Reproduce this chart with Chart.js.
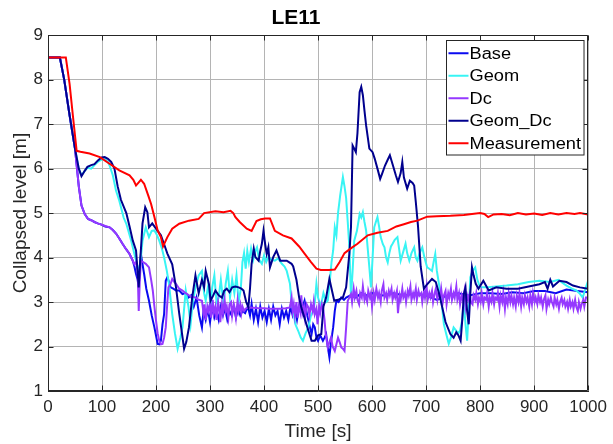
<!DOCTYPE html>
<html><head><meta charset="utf-8">
<script src="https://cdn.jsdelivr.net/npm/chart.js@4.4.1/dist/chart.umd.min.js"></script>
<style>html,body{margin:0;padding:0;background:#fff;}canvas{display:block;}</style>
</head><body>
<canvas id="c" width="613" height="444"></canvas>
<script>
const chartTitle = 'LE11';
const xLabel = 'Time [s]';
const yLabel = 'Collapsed level [m]';
const seriesNames = ['Base', 'Geom', 'Dc', 'Geom_Dc', 'Measurement'];
const seriesColors = ['#0a0af0', '#38f4f4', '#9538ff', '#00008e', '#ff0000'];
const xTickValues = [0, 100, 200, 300, 400, 500, 600, 700, 800, 900, 1000];
const yTickValues = [1, 2, 3, 4, 5, 6, 7, 8, 9];

// [time s, level m]
const baseData = [[0,8.5],[22,8.5],[30,8.0],[40,7.2],[50,6.45],[57,5.6],[62,5.17],[68,4.98],[74,4.87],[80,4.84],[86,4.8],[92,4.77],[99,4.74],[106,4.7],[114,4.68],[120,4.62],[126,4.54],[132,4.43],[138,4.31],[144,4.2],[151,4.08],[157,3.93],[160,3.8],[163,3.63],[166,3.5],[168,3.33],[170,3.8],[172,4.08],[175,3.85],[178,3.63],[182,3.3],[187,3.03],[192,2.7],[197,2.43],[203,2.06],[206,2.05],[209,2.13],[212,2.5],[215,2.73],[218,3.48],[221,3.56],[224,3.45],[227,3.33],[232,3.3],[237,3.26],[243,3.26],[249,3.18],[255,3.2],[260,3.1],[265,3.15],[270,2.9],[275,3.1],[280,2.7],[285,2.43],[288,2.8],[292,2.6],[296,2.85],[300,2.55],[304,2.9],[308,2.65],[312,2.8],[316,2.6],[320,2.9],[324,2.7],[328,2.85],[332,2.6],[336,2.8],[340,2.7],[344,2.9],[348,2.65],[352,2.85],[356,2.7],[360,2.8],[365,2.75],[370,2.9],[374,2.7],[377,2.96],[381,2.6],[385,2.85],[389,2.55],[393,2.9],[397,2.65],[401,2.8],[405,2.55],[409,2.85],[413,2.6],[417,2.9],[421,2.7],[425,2.8],[429,2.5],[433,2.85],[437,2.65],[441,2.8],[445,2.6],[449,2.9],[453,2.7],[457,2.85],[461,2.6],[465,2.9],[469,2.8],[475,3.03],[480,2.7],[485,2.43],[488,2.28],[491,2.5],[494,2.43],[497,2.2],[500,2.13],[504,2.25],[509,2.13],[512,2.2],[515,2.28],[518,2.0],[521,1.76],[524,2.1],[528,2.43],[531,2.8],[534,3.03],[538,3.0],[543,3.1],[548,3.05],[552,3.1],[560,3.15],[570,3.1],[580,3.2],[590,3.15],[600,3.2],[620,3.15],[640,3.2],[660,3.15],[680,3.2],[700,3.15],[720,3.05],[740,3.15],[760,3.2],[780,3.15],[800,3.2],[820,3.2],[840,3.18],[860,3.22],[880,3.2],[900,3.25],[920,3.25],[940,3.2],[960,3.28],[980,3.25],[1000,3.22]];

const geomData = [[0,8.5],[22,8.5],[30,8.0],[40,7.2],[50,6.45],[57,6.0],[62,5.85],[68,5.95],[73,6.02],[80,6.0],[86,6.08],[92,6.15],[99,6.2],[105,6.22],[111,6.15],[114,6.07],[120,5.85],[126,5.5],[132,5.28],[140,4.9],[145,4.76],[154,4.38],[160,4.08],[166,3.8],[169,3.63],[172,4.0],[175,4.38],[181,4.68],[187,4.46],[192,4.6],[197,4.61],[202,4.5],[206,4.38],[211,4.2],[215,4.0],[220,3.7],[224,3.41],[230,2.73],[235,2.3],[240,1.95],[245,2.2],[249,2.43],[255,3.26],[260,2.9],[264,2.5],[268,3.0],[273,3.33],[279,3.6],[285,3.7],[289,3.2],[292,3.03],[297,3.4],[301,2.9],[304,3.33],[308,3.6],[312,3.0],[316,3.1],[320,3.5],[325,2.95],[329,3.41],[333,3.7],[337,3.1],[341,3.5],[345,3.2],[349,3.6],[353,3.0],[357,3.3],[360,3.9],[363,4.1],[366,3.75],[369,4.15],[372,3.9],[376,4.2],[380,3.95],[384,4.15],[387,4.23],[391,3.95],[396,3.86],[400,4.05],[404,3.9],[408,4.01],[414,3.95],[420,3.93],[426,3.98],[433,3.86],[438,3.8],[442,3.7],[448,3.41],[451,3.0],[454,2.8],[458,2.5],[463,2.36],[468,2.2],[472,2.13],[477,2.3],[482,2.43],[487,2.7],[491,2.8],[494,3.0],[497,3.41],[500,3.1],[505,2.9],[510,3.2],[515,3.0],[518,3.03],[522,3.5],[525,3.9],[528,4.16],[531,4.68],[534,4.5],[537,5.0],[541,5.4],[546,5.81],[549,5.6],[552,5.34],[555,4.8],[558,4.23],[561,3.1],[564,3.7],[567,4.38],[572,4.6],[577,4.98],[580,4.9],[583,5.02],[586,4.8],[589,4.61],[592,4.2],[595,3.78],[598,3.33],[601,4.0],[604,4.68],[607,4.8],[610,4.91],[613,4.7],[616,4.46],[620,4.3],[623,4.23],[626,4.0],[629,3.89],[632,4.1],[635,4.25],[638,4.31],[642,4.4],[647,4.46],[650,4.2],[653,3.93],[657,4.1],[662,4.31],[665,4.1],[669,3.93],[673,4.1],[678,4.23],[681,4.0],[684,3.93],[688,4.1],[693,4.23],[697,4.0],[702,3.78],[706,3.75],[711,3.7],[714,3.9],[717,4.08],[720,3.7],[724,3.4],[727,3.18],[730,2.85],[733,2.5],[737,2.3],[742,2.06],[746,2.2],[751,2.43],[756,2.35],[760,2.3],[763,2.36],[767,2.6],[770,3.03],[773,2.5],[776,2.13],[779,2.8],[782,3.56],[786,3.7],[791,3.78],[795,3.5],[800,3.33],[810,3.33],[830,3.35],[849,3.37],[870,3.4],[890,3.45],[910,3.48],[930,3.45],[945,3.5],[960,3.37],[970,3.3],[978,3.26],[984,3.2],[990,3.1],[995,3.3],[1000,3.48]];

const dcData = [[0,8.5],[22,8.5],[30,8.0],[40,7.2],[50,6.45],[57,5.6],[62,5.17],[68,4.98],[74,4.87],[80,4.84],[86,4.8],[92,4.77],[99,4.74],[106,4.71],[114,4.68],[120,4.62],[126,4.54],[132,4.43],[138,4.31],[144,4.2],[151,4.08],[157,3.93],[160,3.85],[163,3.9],[166,3.7],[168,2.8],[170,3.5],[172,3.93],[176,3.9],[181,3.86],[187,3.78],[191,3.5],[194,3.26],[197,2.9],[200,2.58],[203,2.3],[206,2.13],[209,2.05],[212,2.06],[215,2.2],[218,2.43],[221,3.0],[223,3.33],[227,3.41],[230,3.52],[234,3.45],[237,3.41],[243,3.3],[249,3.26],[255,3.2],[261,3.15],[267,3.12],[273,3.1],[279,3.05],[285,3.03],[288,2.75],[290,2.95],[292,2.6],[295,2.9],[297,2.8],[300,2.95],[302,2.65],[305,3.05],[307,2.75],[310,2.9],[312,2.6],[315,3.0],[317,2.85],[319,2.55],[322,2.95],[324,2.75],[327,3.05],[329,2.8],[331,2.9],[334,2.65],[336,2.95],[339,3.0],[341,2.7],[344,2.95],[346,2.85],[348,2.65],[351,3.03],[353,2.8],[356,2.95],[358,2.75],[360,2.9],[363,2.8],[366,2.85],[370,2.88],[380,2.87],[390,2.86],[400,2.86],[410,2.85],[420,2.85],[430,2.85],[440,2.86],[448,2.88],[451,3.1],[453,2.8],[455,2.95],[457,2.7],[460,3.0],[462,2.65],[465,2.95],[467,2.8],[469,3.15],[471,2.75],[474,2.9],[476,2.65],[479,2.95],[482,2.88],[484,2.7],[487,2.95],[490,2.8],[492,3.0],[494,2.73],[497,2.85],[499,2.5],[502,2.9],[504,2.75],[507,2.95],[510,2.8],[512,2.6],[514,2.3],[518,1.98],[521,2.1],[524,2.2],[527,2.0],[531,1.9],[534,2.05],[537,2.2],[540,2.1],[543,1.98],[546,1.95],[549,1.9],[552,2.43],[555,3.03],[558,3.1],[561,3.18],[563,3.0],[566,3.3],[568,3.1],[571,3.25],[573,3.05],[576,2.95],[578,3.2],[581,3.1],[583,3.35],[586,3.05],[588,3.15],[591,3.0],[593,3.25],[596,3.1],[598,3.2],[600,2.9],[603,3.2],[605,3.05],[608,3.3],[611,3.1],[613,3.2],[616,3.0],[618,3.25],[621,3.4],[623,3.1],[626,3.2],[628,3.05],[631,3.25],[633,3.15],[636,3.3],[638,3.05],[641,3.2],[643,3.1],[646,3.25],[648,2.75],[651,3.15],[653,3.05],[656,3.3],[658,3.1],[661,3.2],[663,3.0],[666,3.25],[668,3.15],[671,3.35],[673,3.05],[676,3.2],[678,3.1],[681,3.3],[683,3.05],[686,3.25],[688,3.15],[691,3.2],[693,3.0],[696,3.25],[698,3.1],[701,3.35],[703,3.05],[706,3.2],[708,3.1],[711,3.25],[713,3.0],[716,3.2],[718,3.3],[721,3.05],[723,3.2],[726,3.1],[728,3.3],[731,3.0],[733,3.15],[736,3.25],[738,2.95],[741,3.2],[743,3.1],[746,3.3],[748,3.05],[751,3.2],[753,3.1],[756,3.35],[758,3.05],[761,3.2],[763,2.95],[766,3.15],[768,3.05],[771,3.25],[773,2.9],[776,3.15],[778,3.05],[781,3.2],[783,3.0],[786,2.95],[788,3.15],[791,3.05],[793,3.2],[796,2.95],[798,3.1],[801,3.0],[803,3.2],[806,2.95],[808,3.1],[811,3.05],[813,3.2],[816,2.9],[818,3.1],[821,3.0],[823,3.2],[826,2.95],[828,3.1],[831,3.05],[833,3.2],[836,2.9],[838,3.15],[841,3.0],[843,3.2],[846,2.85],[848,3.1],[851,2.95],[853,3.2],[856,3.0],[858,3.15],[861,2.95],[863,3.1],[866,2.9],[868,3.15],[871,3.0],[873,3.2],[876,2.9],[878,3.1],[881,2.95],[883,3.15],[886,3.0],[888,3.1],[891,2.9],[893,3.15],[896,2.95],[898,3.2],[901,3.0],[903,3.1],[906,2.95],[908,3.15],[911,3.0],[913,3.1],[916,2.9],[918,3.05],[921,3.15],[923,2.85],[926,3.05],[928,2.95],[931,3.1],[933,3.0],[936,2.9],[938,3.1],[941,2.95],[943,3.05],[946,2.85],[948,3.0],[951,3.1],[953,2.95],[956,3.05],[958,2.9],[961,3.0],[963,2.85],[966,3.05],[968,2.9],[971,3.0],[973,2.85],[976,3.05],[978,2.9],[981,2.8],[983,3.0],[986,2.85],[988,2.95],[991,3.05],[993,2.9],[996,3.1],[1000,3.1]];

const geomDcData = [[0,8.5],[22,8.5],[30,8.0],[40,7.2],[50,6.45],[57,6.0],[62,5.83],[68,5.95],[73,6.04],[80,6.08],[86,6.1],[92,6.18],[99,6.25],[105,6.26],[111,6.22],[117,6.15],[123,6.0],[129,5.6],[135,5.3],[145,5.0],[151,4.7],[157,4.38],[163,4.16],[168,3.33],[170,3.78],[175,4.77],[180,5.13],[184,5.02],[187,4.68],[193,4.77],[200,4.65],[209,4.5],[215,4.3],[221,4.09],[230,3.85],[237,3.33],[243,2.74],[248,2.3],[252,1.95],[256,2.1],[261,2.43],[267,3.1],[273,3.6],[279,3.2],[285,3.5],[289,3.33],[292,3.7],[298,3.4],[301,3.03],[306,3.15],[310,3.26],[316,3.15],[322,3.1],[326,3.25],[331,3.3],[336,3.22],[341,3.33],[347,3.35],[353,3.33],[358,3.3],[362,3.26],[367,3.0],[371,2.88],[374,3.3],[377,3.86],[381,4.2],[384,4.01],[390,3.93],[393,4.15],[396,4.31],[399,4.6],[402,4.31],[405,4.08],[408,4.23],[411,3.78],[417,4.01],[423,4.16],[430,3.93],[436,3.93],[442,3.93],[451,3.86],[454,3.8],[460,3.5],[465,3.1],[469,2.88],[476,2.6],[482,2.36],[488,2.13],[494,2.13],[500,2.25],[506,2.28],[510,2.9],[515,3.1],[521,3.52],[530,3.03],[537,3.05],[546,3.1],[552,3.33],[558,4.09],[561,4.68],[564,6.52],[567,6.45],[570,6.37],[573,6.8],[577,7.72],[580,7.84],[583,7.65],[586,7.3],[589,6.97],[595,6.45],[601,6.37],[605,6.22],[610,6.0],[615,5.77],[619,5.9],[624,6.07],[629,6.2],[633,6.3],[638,6.1],[644,5.85],[648,5.7],[653,5.9],[656,6.15],[659,5.8],[665,5.55],[670,5.73],[675,5.68],[678,5.62],[681,5.25],[685,4.72],[690,3.8],[696,3.3],[702,3.4],[711,3.52],[718,3.45],[724,3.2],[730,2.88],[736,2.55],[745,2.28],[751,2.2],[756,2.32],[760,2.25],[764,2.13],[767,2.6],[770,3.18],[773,3.33],[776,2.8],[779,2.5],[782,3.2],[785,3.78],[788,3.6],[792,3.41],[797,3.3],[806,3.48],[816,3.26],[830,3.33],[849,3.3],[870,3.3],[890,3.35],[910,3.4],[920,3.45],[925,3.3],[930,3.5],[935,3.35],[947,3.48],[960,3.45],[972,3.37],[985,3.33],[1000,3.3]];

const measurementData = [[0,8.5],[33,8.5],[40,7.9],[46,7.2],[53,6.4],[60,6.38],[77,6.34],[96,6.26],[114,6.11],[132,5.96],[151,5.85],[158,5.75],[163,5.62],[172,5.75],[178,5.66],[186,5.38],[191,5.2],[197,4.91],[203,4.61],[209,4.46],[213,4.25],[221,4.46],[230,4.65],[243,4.76],[261,4.83],[279,4.87],[289,5.0],[310,5.04],[325,5.02],[338,5.05],[343,5.0],[347,4.91],[355,4.8],[368,4.65],[377,4.6],[386,4.82],[394,4.86],[402,4.88],[411,4.88],[420,4.6],[435,4.5],[451,4.43],[465,4.25],[475,4.09],[487,3.9],[497,3.75],[505,3.72],[520,3.72],[531,3.73],[540,3.9],[549,4.1],[560,4.2],[573,4.31],[592,4.5],[610,4.56],[629,4.6],[645,4.7],[659,4.75],[672,4.8],[684,4.83],[702,4.92],[720,4.93],[745,4.94],[770,4.96],[800,5.0],[808,4.98],[815,4.91],[825,4.97],[840,4.98],[855,4.95],[870,5.0],[885,4.97],[900,4.99],[915,4.96],[930,5.0],[945,4.97],[960,5.0],[975,4.98],[985,5.0],[1000,4.97]];

const seriesData = [baseData, geomData, dcData, geomDcData, measurementData];

const FONT = '"Liberation Sans", Arial, Helvetica, sans-serif';
const AXIS_COLOR = '#262626';
const GRID_COLOR = '#b4b4b4';

const framePlugin = {
  id: 'frame',
  afterDatasetsDraw(chart) {
    const {ctx, chartArea: a, scales: {x, y}} = chart;
    ctx.save();
    ctx.strokeStyle = AXIS_COLOR;
    ctx.lineWidth = 1;
    ctx.beginPath();
    const L = Math.round(a.left) + 0.5, R = Math.round(a.right) - 0.5;
    const T = Math.round(a.top) + 0.5, B = Math.round(a.bottom) - 0.5;
    ctx.moveTo(L, T); ctx.lineTo(R, T); ctx.lineTo(R, B); ctx.lineTo(L, B); ctx.closePath();
    const tl = 5;
    x.ticks.forEach(t => {
      const px = Math.round(x.getPixelForValue(t.value)) + 0.5;
      ctx.moveTo(px, B); ctx.lineTo(px, B - tl);
      ctx.moveTo(px, T); ctx.lineTo(px, T + tl);
    });
    y.ticks.forEach(t => {
      const py = Math.round(y.getPixelForValue(t.value)) + 0.5;
      ctx.moveTo(L, py); ctx.lineTo(L + tl, py);
      ctx.moveTo(R, py); ctx.lineTo(R - tl, py);
    });
    ctx.stroke();

    // legend box
    const items = chart.data.datasets;
    const fs = 16, stretch = 1.14;
    ctx.font = fs + 'px ' + FONT;
    const textW = Math.max(...items.map(d => ctx.measureText(d.label).width)) * stretch;
    const rowH = 22.5, lineW = 20, padL = 2, gap = 1, padR = 3;
    const boxW = padL + lineW + gap + textW + padR;
    const boxH = items.length * rowH + 2;
    const bx = Math.round(a.right - 5 - boxW) + 0.5;
    const by = Math.round(a.top + 5) + 0.5;
    ctx.fillStyle = '#ffffff';
    ctx.fillRect(bx, by, boxW, boxH);
    ctx.strokeStyle = AXIS_COLOR;
    ctx.lineWidth = 1;
    ctx.strokeRect(bx, by, boxW, boxH);
    items.forEach((d, i) => {
      const cy = by + 1.5 + rowH * (i + 0.5);
      ctx.strokeStyle = d.borderColor;
      ctx.lineWidth = 2;
      ctx.beginPath();
      ctx.moveTo(bx + padL, cy); ctx.lineTo(bx + padL + lineW, cy);
      ctx.stroke();
      ctx.save();
      ctx.translate(bx + padL + lineW + gap, cy);
      ctx.scale(stretch, 1);
      ctx.fillStyle = '#000000';
      ctx.textBaseline = 'middle';
      ctx.textAlign = 'left';
      ctx.fillText(d.label, 0, 1);
      ctx.restore();
    });
    ctx.restore();
  }
};

const datasets = seriesNames.map((name, i) => ({
  label: name,
  data: seriesData[i].map(p => ({x: p[0], y: p[1]})),
  borderColor: seriesColors[i],
  backgroundColor: seriesColors[i],
  borderWidth: 2,
  pointRadius: 0,
  tension: 0,
  fill: false,
  order: seriesNames.length - i
}));

new Chart(document.getElementById('c'), {
  type: 'line',
  data: { datasets },
  options: {
    responsive: false,
    animation: false,
    devicePixelRatio: 1,
    layout: { padding: { left: 0, right: 21, top: 0, bottom: 0 } },
    plugins: {
      legend: { display: false },
      tooltip: { enabled: false },
      title: {
        display: true, text: chartTitle, color: '#000000',
        font: { family: FONT, size: 21, weight: 'bold', lineHeight: 1.2 },
        padding: { top: 6, bottom: 4 }
      }
    },
    scales: {
      x: {
        type: 'linear', min: 0, max: 1000,
        afterBuildTicks: s => { s.ticks = xTickValues.map(v => ({ value: v })); },
        afterFit: s => { s.height = 53; },
        grid: { color: GRID_COLOR, lineWidth: 1, drawTicks: false },
        border: { color: AXIS_COLOR, width: 1 },
        ticks: { color: AXIS_COLOR, font: { family: FONT, size: 17 }, padding: 6, maxRotation: 0, autoSkip: false, callback: v => String(v) },
        title: { display: true, text: xLabel, color: AXIS_COLOR, font: { family: FONT, size: 19, lineHeight: 1.2 }, padding: { top: 0, bottom: 1 } }
      },
      y: {
        type: 'linear', min: 1, max: 9,
        afterBuildTicks: s => { s.ticks = yTickValues.map(v => ({ value: v })); },
        afterFit: s => { s.width = 48; },
        grid: { color: GRID_COLOR, lineWidth: 1, drawTicks: false },
        border: { color: AXIS_COLOR, width: 1 },
        ticks: { color: AXIS_COLOR, font: { family: FONT, size: 17 }, padding: 5, callback: v => String(v) },
        title: { display: true, text: yLabel, color: AXIS_COLOR, font: { family: FONT, size: 19, lineHeight: 1.2 }, padding: { top: 9, bottom: 0 } }
      }
    }
  },
  plugins: [framePlugin]
});
</script>
</body></html>
